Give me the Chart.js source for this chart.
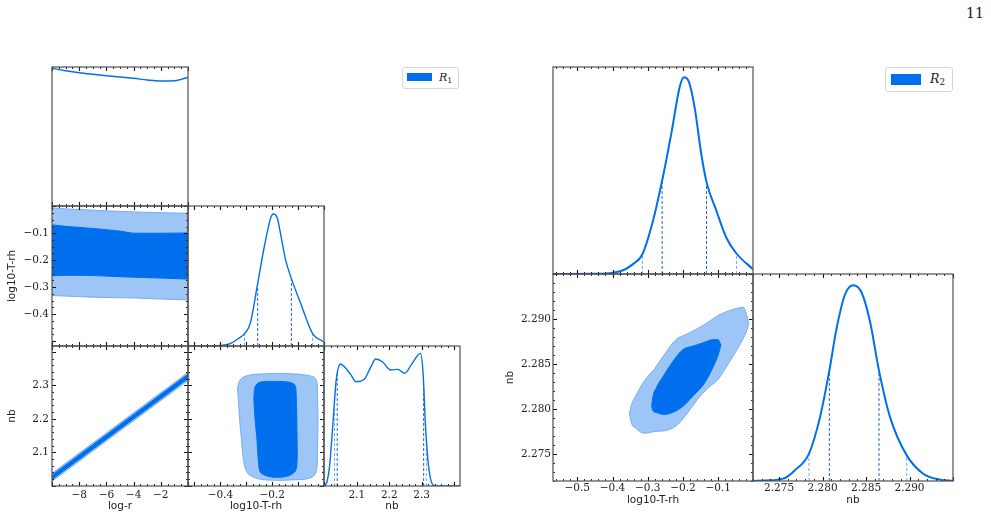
<!DOCTYPE html>
<html><head><meta charset="utf-8">
<script src="https://cdn.jsdelivr.net/npm/chart.js@4.4.1/dist/chart.umd.min.js"></script>
<style>
html,body{margin:0;padding:0;background:#fff;width:991px;height:519px;overflow:hidden;position:relative;font-family:"DejaVu Sans";}
canvas.pn{position:absolute;}
.legend{position:absolute;border:1px solid #d6d6d6;border-radius:3px;background:#fff;box-sizing:border-box;}
.legend .patch{position:absolute;background:#006FED;}
.legend .lab{position:absolute;font-family:"DejaVu Serif";white-space:nowrap;color:#222;line-height:1;}
.legend sub{font-size:70%;font-style:normal;vertical-align:-0.25em;}
#page{position:absolute;left:966px;top:5px;font-family:"DejaVu Serif";font-size:14px;color:#222;}
</style></head><body>
<div id="page">11</div>
<div class="legend" style="left:402px;top:67px;width:57px;height:22px"><div class="patch" style="left:4px;top:5px;width:25px;height:8px"></div><div class="lab" style="left:36px;top:4px;font-size:11px"><i>R</i><sub>1</sub></div></div>
<div class="legend" style="left:885px;top:67px;width:68px;height:25px"><div class="patch" style="left:5px;top:6px;width:30px;height:11px"></div><div class="lab" style="left:44px;top:5px;font-size:12.5px"><i>R</i><sub>2</sub></div></div>
<script>
// ================= DATA =================
// --- left corner plot (R1) ---
const logrDensX = [-10, -9, -8, -7, -6, -5, -4, -3, -2, -1, -0.5, 0];
const logrDensY = [1.040, 1.022, 1.007, 0.995, 0.984, 0.974, 0.965, 0.952, 0.944, 0.946, 0.957, 0.972];

const tL_DensX = [-0.525, -0.45, -0.40, -0.362, -0.33, -0.307, -0.285, -0.256, -0.233, -0.213, -0.205, -0.196, -0.188, -0.18, -0.168, -0.148, -0.126, -0.09, -0.044, 0];
const tL_DensY = [0, 0.001, 0.004, 0.018, 0.056, 0.093, 0.168, 0.469, 0.72, 0.907, 0.965, 0.99, 0.985, 0.958, 0.845, 0.644, 0.507, 0.319, 0.093, 0.03];
const tL_Quant = [-0.307, -0.256, -0.126, -0.044];
const tL_QuantH = [0.093, 0.469, 0.507, 0.093];

const nbL_DensX = [2.0, 2.008, 2.016, 2.0265, 2.0366, 2.0498, 2.062, 2.0824, 2.0977, 2.123, 2.1434, 2.1587, 2.179, 2.2045, 2.2267, 2.2472, 2.2707, 2.296, 2.3043, 2.3113, 2.3214, 2.3366, 2.36, 2.418];
const nbL_DensY = [0, 0.03, 0.143, 0.469, 0.794, 0.915, 0.894, 0.832, 0.782, 0.8, 0.894, 0.952, 0.932, 0.87, 0.875, 0.845, 0.92, 0.995, 0.845, 0.469, 0.143, 0.005, 0, 0];
const nbL_Quant = [2.0314, 2.0397, 2.306, 2.3144];
const nbL_QuantH = [0.63, 0.84, 0.75, 0.36];

// log-r vs log10-T-rh bands
const bandLogrX = [-10, -8.9, -8, -6.4, -5, -3.9, -2, 0];
const bandT_OuterUp = [-0.006, -0.010, -0.012, -0.016, -0.019, -0.021, -0.024, -0.026];
const bandT_InnerUp = [-0.069, -0.075, -0.078, -0.085, -0.092, -0.100, -0.100, -0.099];
const bandT_InnerLo = [-0.258, -0.256, -0.256, -0.258, -0.261, -0.263, -0.266, -0.270];
const bandT_OuterLo = [-0.331, -0.333, -0.335, -0.338, -0.339, -0.340, -0.344, -0.347];

// log-r vs nb bands
const bandNbX = [-10, -5, 0];
const bandNb_OuterUp = [2.037, 2.188, 2.339];
const bandNb_InnerUp = [2.0315, 2.1825, 2.3335];
const bandNb_InnerLo = [2.0185, 2.1695, 2.3205];
const bandNb_OuterLo = [2.013, 2.164, 2.315];

// log10-T-rh vs nb contours (left)
const blobL_OuterX  = [-0.334, -0.330, -0.326, -0.320, -0.313, -0.305, -0.297, -0.28, -0.25, -0.22, -0.19, -0.16, -0.13, -0.10, -0.07, -0.045, -0.035, -0.029, -0.026, -0.023];
const blobL_OuterUp = [2.290, 2.305, 2.314, 2.320, 2.324, 2.327, 2.329, 2.332, 2.334, 2.335, 2.336, 2.336, 2.335, 2.334, 2.331, 2.327, 2.323, 2.315, 2.300, 2.190];
const blobL_OuterLo = [2.290, 2.250, 2.200, 2.150, 2.090, 2.055, 2.040, 2.028, 2.020, 2.017, 2.016, 2.016, 2.017, 2.018, 2.020, 2.026, 2.034, 2.045, 2.070, 2.190];
const blobL_InnerX  = [-0.271, -0.268, -0.264, -0.259, -0.255, -0.25, -0.235, -0.21, -0.18, -0.15, -0.13, -0.118, -0.112, -0.108, -0.105, -0.103];
const blobL_InnerUp = [2.260, 2.290, 2.298, 2.304, 2.307, 2.309, 2.311, 2.312, 2.312, 2.311, 2.309, 2.305, 2.300, 2.285, 2.200, 2.090];
const blobL_InnerLo = [2.260, 2.220, 2.180, 2.140, 2.090, 2.050, 2.034, 2.027, 2.025, 2.027, 2.032, 2.038, 2.042, 2.048, 2.060, 2.090];

// --- right corner plot (R2) ---
const tR_DensX = [-0.569, -0.45, -0.398, -0.37, -0.342, -0.315, -0.285, -0.259, -0.233, -0.209, -0.197, -0.183, -0.167, -0.148, -0.133, -0.105, -0.077, -0.048, -0.001];
const tR_DensY = [0, 0.001, 0.0066, 0.019, 0.05, 0.1, 0.27, 0.474, 0.712, 0.95, 0.998, 0.975, 0.848, 0.61, 0.466, 0.321, 0.185, 0.104, 0.024];
const tR_Quant = [-0.315, -0.259, -0.133, -0.048];
const tR_QuantH = [0.1, 0.474, 0.466, 0.104];

const nbR_DensX = [2.272, 2.2735, 2.27548, 2.27683, 2.27844, 2.27971, 2.28078, 2.28163, 2.28258, 2.28353, 2.2845, 2.28545, 2.28649, 2.28776, 2.28968, 2.29158, 2.2935, 2.295];
const nbR_DensY = [0, 0.003, 0.012, 0.055, 0.139, 0.324, 0.56, 0.778, 0.946, 0.993, 0.955, 0.81, 0.56, 0.324, 0.13, 0.037, 0.007, 0.001];
const nbR_Quant = [2.27844, 2.28078, 2.28649, 2.28968];
const nbR_QuantH = [0.139, 0.56, 0.56, 0.13];

const blobR_OuterX  = [-0.352, -0.345, -0.335, -0.31, -0.28, -0.25, -0.22, -0.19, -0.16, -0.13, -0.10, -0.07, -0.045, -0.028, -0.018, -0.013];
const blobR_OuterUp = [2.2795, 2.2806, 2.2814, 2.2831, 2.2845, 2.2862, 2.2877, 2.2883, 2.2889, 2.2896, 2.2904, 2.2909, 2.2912, 2.2913, 2.2903, 2.2895];
const blobR_OuterLo = [2.2795, 2.2783, 2.2779, 2.2773, 2.2775, 2.2776, 2.2781, 2.2794, 2.2810, 2.2823, 2.2833, 2.2851, 2.2867, 2.2879, 2.2888, 2.2895];
const blobR_InnerX  = [-0.289, -0.285, -0.275, -0.255, -0.23, -0.2, -0.17, -0.14, -0.115, -0.1, -0.092];
const blobR_InnerUp = [2.2803, 2.2814, 2.2824, 2.2837, 2.2852, 2.2866, 2.2870, 2.2874, 2.2877, 2.2877, 2.2871];
const blobR_InnerLo = [2.2803, 2.2798, 2.2796, 2.2794, 2.2796, 2.2803, 2.2815, 2.2828, 2.2846, 2.2860, 2.2871];

// --- tick labels ---
const logrTicks = [-8, -6, -4, -2];
const logrTickLabels = ['\u22128', '\u22126', '\u22124', '\u22122'];
const tL_YTicks = [-0.4, -0.3, -0.2, -0.1];
const tL_YTickLabels = ['\u22120.4', '\u22120.3', '\u22120.2', '\u22120.1'];
const tL_XTicks = [-0.4, -0.2];
const tL_XTickLabels = ['\u22120.4', '\u22120.2'];
const nbL_Ticks = [2.1, 2.2, 2.3];
const nbL_TickLabels = ['2.1', '2.2', '2.3'];
const tR_Ticks = [-0.5, -0.4, -0.3, -0.2, -0.1];
const tR_TickLabels = ['\u22120.5', '\u22120.4', '\u22120.3', '\u22120.2', '\u22120.1'];
const nbR_Ticks = [2.275, 2.280, 2.285, 2.290];
const nbR_TickLabels = ['2.275', '2.280', '2.285', '2.290'];

// ================= STYLE =================
const BLUE = '#006FED', LIGHT = '#9DC5F6', EDGE = '#74ADF2';
const Q68 = '#2466C8', Q95 = '#6EA9F0';
const TICK_FONT = {family: '"DejaVu Serif", serif', size: 10.5};
const TITLE_FONT = {family: '"DejaVu Sans", sans-serif', size: 10.5};
Chart.defaults.font.family = '"DejaVu Sans", sans-serif';

const pts = (xs, ys) => xs.map((x, i) => ({x, y: ys[i]}));
const curveDS = (xs, ys, w) => ({data: pts(xs, ys), borderColor: BLUE, borderWidth: w, pointRadius: 0, fill: false, cubicInterpolationMode: 'monotone'});
const dashDSs = (qs, hs) => qs.map((q, i) => ({data: [{x: q, y: 0}, {x: q, y: hs[i]}], borderColor: (i === 1 || i === 2) ? Q68 : Q95, borderWidth: 1, borderDash: [3, 2], pointRadius: 0, fill: false}));
const bandDSs = (xs, up, lo, fillC, edgeC) => [
  {data: pts(xs, up), borderColor: edgeC, borderWidth: 1, backgroundColor: fillC, fill: '+1', pointRadius: 0, cubicInterpolationMode: 'monotone'},
  {data: pts(xs, lo), borderColor: edgeC, borderWidth: 1, fill: false, pointRadius: 0, cubicInterpolationMode: 'monotone'}
];

// frame + inward ticks plugin
Chart.register({
  id: 'frameTicks',
  afterDraw(chart, args, o) {
    const {ctx, chartArea: a} = chart;
    ctx.save();
    const marks = (sc, major, minor, cb) => {
      const n0 = Math.ceil(sc.min / minor - 1e-6), n1 = Math.floor(sc.max / minor + 1e-6);
      for (let n = n0; n <= n1; n++) {
        const v = n * minor;
        const isMaj = Math.abs(v / major - Math.round(v / major)) < 1e-6;
        cb(Math.round(sc.getPixelForValue(v)) + 0.5, isMaj ? 4 : 2, isMaj);
      }
    };
    ctx.strokeStyle = '#111';
    if (o.x) marks(chart.scales.x, o.x[0], o.x[1], (p, L, maj) => {
      ctx.lineWidth = maj ? 1.1 : 0.9;
      ctx.beginPath();
      ctx.moveTo(p, a.bottom); ctx.lineTo(p, a.bottom - L);
      ctx.moveTo(p, a.top); ctx.lineTo(p, a.top + L);
      ctx.stroke();
    });
    if (o.y) marks(chart.scales.y, o.y[0], o.y[1], (p, L, maj) => {
      ctx.lineWidth = maj ? 1.1 : 0.9;
      ctx.beginPath();
      ctx.moveTo(a.left, p); ctx.lineTo(a.left + L, p);
      ctx.moveTo(a.right, p); ctx.lineTo(a.right - L, p);
      ctx.stroke();
    });
    ctx.strokeStyle = '#505050';
    ctx.lineWidth = 1.2;
    ctx.strokeRect(a.left, a.top, a.right - a.left, a.bottom - a.top);
    ctx.restore();
  }
});

function axisOpts(rng, lab, size, horizontal) {
  const o = {
    type: 'linear', min: rng.min, max: rng.max, display: !!lab,
    grid: {display: false, drawTicks: false}, border: {display: false},
    afterFit: s => {
      if (horizontal) s.height = size; else s.width = size;
      s.paddingLeft = s.paddingRight = s.paddingTop = s.paddingBottom = 0;
    }
  };
  if (lab) {
    o.afterBuildTicks = s => { s.ticks = lab.vals.map(v => ({value: v})); };
    o.ticks = {autoSkip: false, maxRotation: 0, minRotation: 0, padding: lab.pad, color: '#222', font: TICK_FONT,
      callback: (v, i) => lab.text[i]};
    o.title = {display: true, text: lab.title, color: '#222', font: TITLE_FONT,
      padding: horizontal ? {top: 0, bottom: lab.tpad} : {top: lab.tpad, bottom: 0}};
  }
  return o;
}

function panel(p) {
  const M = 4;
  const padL = p.ylab ? p.padL : 0, padB = p.xlab ? p.padB : 0;
  const W = p.w + 2 * M + padL, H = p.h + 2 * M + padB;
  const cv = document.createElement('canvas');
  cv.className = 'pn';
  cv.width = W; cv.height = H;
  cv.style.left = (p.x - M - padL) + 'px';
  cv.style.top = (p.y - M) + 'px';
  cv.style.width = W + 'px'; cv.style.height = H + 'px';
  document.body.appendChild(cv);
  new Chart(cv, {
    type: 'line',
    data: {datasets: p.datasets},
    options: {
      responsive: false, animation: false, devicePixelRatio: 1,
      layout: {padding: {left: M, right: M, top: M, bottom: M}},
      plugins: {legend: {display: false}, tooltip: {enabled: false},
        filler: {drawTime: 'beforeDatasetsDraw'},
        frameTicks: {x: p.xt, y: p.yt}},
      scales: {
        x: axisOpts(p.xr, p.xlab, padB, true),
        y: axisOpts(p.yr, p.ylab, padL, false)
      }
    }
  });
}

// ---- ranges ----
const DENS = {min: 0, max: 1.05};
const LOGR = {min: -10, max: 0};
const TLX = {min: -0.525, max: 0};
const TLY = {min: -0.518, max: 0.001};
const NBL = {min: 1.999, max: 2.418};
const TR = {min: -0.569, max: -0.001};
const NBR = {min: 2.272, max: 2.295};

// ---- left plot ----
const XL = [52, 188, 324], WL = 136, YL = [67, 206, 346], HL = [139, 140, 140];
const LP = {padL: 48, padB: 32};
const labL = (vals, text, title, horiz) => horiz ? {vals, text, title, pad: 3, tpad: 5.7} : {vals, text, title, pad: 3, tpad: 2};

panel({...LP, x: XL[0], y: YL[0], w: WL, h: HL[0], xr: LOGR, yr: DENS, xt: [2, 0.5],
  datasets: [curveDS(logrDensX, logrDensY, 1.4)]});
panel({...LP, x: XL[0], y: YL[1], w: WL, h: HL[1], xr: LOGR, yr: TLY, xt: [2, 0.5], yt: [0.1, 0.025],
  ylab: labL(tL_YTicks, tL_YTickLabels, 'log10-T-rh', false),
  datasets: [...bandDSs(bandLogrX, bandT_InnerUp, bandT_InnerLo, BLUE, BLUE), ...bandDSs(bandLogrX, bandT_OuterUp, bandT_OuterLo, LIGHT, EDGE)]});
panel({...LP, x: XL[0], y: YL[2], w: WL, h: HL[2], xr: LOGR, yr: NBL, xt: [2, 0.5], yt: [0.1, 0.02],
  xlab: labL(logrTicks, logrTickLabels, 'log-r', true),
  ylab: labL(nbL_Ticks, nbL_TickLabels, 'nb', false),
  datasets: [...bandDSs(bandNbX, bandNb_InnerUp, bandNb_InnerLo, BLUE, BLUE), ...bandDSs(bandNbX, bandNb_OuterUp, bandNb_OuterLo, LIGHT, EDGE)]});
panel({...LP, x: XL[1], y: YL[1], w: WL, h: HL[1], xr: TLX, yr: DENS, xt: [0.1, 0.025],
  datasets: [curveDS(tL_DensX, tL_DensY, 1.4), ...dashDSs(tL_Quant, tL_QuantH)]});
panel({...LP, x: XL[1], y: YL[2], w: WL, h: HL[2], xr: TLX, yr: NBL, xt: [0.1, 0.025], yt: [0.1, 0.02],
  xlab: labL(tL_XTicks, tL_XTickLabels, 'log10-T-rh', true),
  datasets: [...bandDSs(blobL_InnerX, blobL_InnerUp, blobL_InnerLo, BLUE, BLUE), ...bandDSs(blobL_OuterX, blobL_OuterUp, blobL_OuterLo, LIGHT, EDGE)]});
panel({...LP, x: XL[2], y: YL[2], w: WL, h: HL[2], xr: NBL, yr: DENS, xt: [0.1, 0.02],
  xlab: labL(nbL_Ticks, nbL_TickLabels, 'nb', true),
  datasets: [curveDS(nbL_DensX, nbL_DensY, 1.4), ...dashDSs(nbL_Quant, nbL_QuantH)]});

// ---- right plot ----
const XR = [553, 753], WR = 200, YR = [67, 274], HR = [207, 207];
const RP = {padL: 60, padB: 32};
const labR = (vals, text, title, horiz) => horiz ? {vals, text, title, pad: 1.3, tpad: 6.7} : {vals, text, title, pad: 2, tpad: 11.4};

panel({...RP, x: XR[0], y: YR[0], w: WR, h: HR[0], xr: TR, yr: DENS, xt: [0.1, 0.02],
  datasets: [curveDS(tR_DensX, tR_DensY, 2), ...dashDSs(tR_Quant, tR_QuantH)]});
panel({...RP, x: XR[0], y: YR[1], w: WR, h: HR[1], xr: TR, yr: NBR, xt: [0.1, 0.02], yt: [0.005, 0.001],
  xlab: labR(tR_Ticks, tR_TickLabels, 'log10-T-rh', true),
  ylab: labR(nbR_Ticks, nbR_TickLabels, 'nb', false),
  datasets: [...bandDSs(blobR_InnerX, blobR_InnerUp, blobR_InnerLo, BLUE, BLUE), ...bandDSs(blobR_OuterX, blobR_OuterUp, blobR_OuterLo, LIGHT, EDGE)]});
panel({...RP, x: XR[1], y: YR[1], w: WR, h: HR[1], xr: NBR, yr: DENS, xt: [0.005, 0.001],
  xlab: labR(nbR_Ticks, nbR_TickLabels, 'nb', true),
  datasets: [curveDS(nbR_DensX, nbR_DensY, 2), ...dashDSs(nbR_Quant, nbR_QuantH)]});
</script>
</body></html>
